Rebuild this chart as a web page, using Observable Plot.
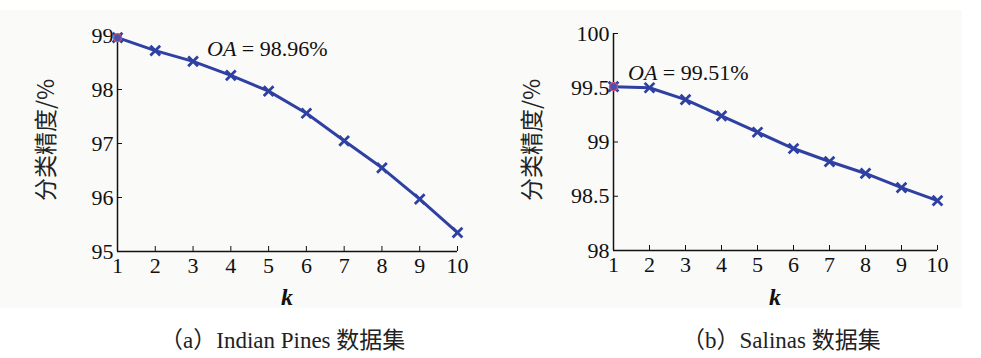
<!DOCTYPE html>
<html>
<head>
<meta charset="utf-8">
<script src="https://cdn.jsdelivr.net/npm/d3@7"></script>
<script src="https://cdn.jsdelivr.net/npm/@observablehq/plot@0.6"></script>
<style>
  body { margin: 0; background: #fff; }
  #wrap { position: relative; width: 981px; height: 358px; overflow: hidden; font-family: "Liberation Serif", "DejaVu Serif", serif; }
  #band { position: absolute; left: 0; top: 10px; width: 962px; height: 298px; background: #fafaf8; }
  .panel { position: absolute; top: 0; }
  .cap { position: absolute; top: 321px; font-size: 23px; color: #222; font-family: "Liberation Serif", "DejaVu Serif", serif; white-space: nowrap; }
  .cap .cjk { font-family: "Noto Sans CJK SC", sans-serif; font-size: 23px; }
</style>
</head>
<body>
<div id="wrap">
  <div id="band"></div>
  <div class="panel" id="pa" style="left:0px"></div>
  <div class="panel" id="pb" style="left:490px"></div>
  <div class="cap" style="left:160px"><span class="cjk">（</span>a<span class="cjk">）</span>Indian Pines <span class="cjk">数据集</span></div>
  <div class="cap" style="left:682px"><span class="cjk">（</span>b<span class="cjk">）</span>Salinas <span class="cjk">数据集</span></div>
</div>
<script>
const kValues = [1, 2, 3, 4, 5, 6, 7, 8, 9, 10];
const indianPines = [98.96, 98.72, 98.52, 98.26, 97.97, 97.56, 97.05, 96.55, 95.97, 95.35];
const salinas = [99.51, 99.50, 99.39, 99.24, 99.09, 98.94, 98.82, 98.71, 98.58, 98.46];
const yTicksA = [95, 96, 97, 98, 99];
const yTicksB = [98, 98.5, 99, 99.5, 100];
const yLabel = "分类精度/%";
const xLabel = "k";
const oaA = "98.96%";
const oaB = "99.51%";

const lineColor = "#2f40a3";
const serif = "'Liberation Serif', 'DejaVu Serif', serif";

function panel(values, yDomain, yTicks, oa, opts) {
  const data = kValues.map((k, i) => ({k, v: values[i]}));
  const chart = Plot.plot({
    width: opts.width,
    height: 310,
    marginLeft: opts.ml,
    marginRight: opts.mr,
    marginTop: opts.mt,
    marginBottom: opts.mb,
    style: {background: "transparent", fontSize: "22px", fontFamily: serif, color: "#111", overflow: "visible"},
    x: {domain: [1, 10], ticks: kValues, tickFormat: d => String(d), label: null},
    y: {domain: yDomain, ticks: yTicks, tickFormat: d => String(d), label: null},
    marks: [
      Plot.axisX({ticks: kValues, tickSize: -5, tickPadding: 11, fontSize: 22, tickFormat: d => String(d), label: null, stroke: "#111"}),
      Plot.axisY({ticks: yTicks, tickSize: -5, tickPadding: 9, fontSize: 22, tickFormat: d => String(d), label: null, stroke: "#111"}),
      Plot.ruleY([yDomain[0]], {stroke: "#111", strokeWidth: 1.5}),
      Plot.ruleX([1], {stroke: "#111", strokeWidth: 1.5}),
      Plot.line(data, {x: "k", y: "v", stroke: lineColor, strokeWidth: 3}),
      Plot.dot(data, {x: "k", y: "v", symbol: "times", r: 4.5, stroke: lineColor, strokeWidth: 2.8}),
      Plot.dot(data.slice(0, 1), {x: "k", y: "v", symbol: "circle", r: 4, stroke: "#d9506a", fill: "#4a4fb0", strokeWidth: 1.2})
    ]
  });
  const svg = d3.select(chart);
  svg.selectAll('g[aria-label$="tick label"]').attr("font-size", 22).style("font-size", "22px");
  svg.selectAll('g[aria-label$="tick label"] text').style("font-size", "22px");
  const W = opts.width;
  svg.append("text")
    .attr("x", opts.ml + (W - opts.ml - opts.mr) / 2)
    .attr("y", 305)
    .attr("text-anchor", "middle")
    .attr("font-size", 24)
    .attr("font-style", "italic")
    .attr("font-weight", "bold")
    .attr("font-family", serif)
    .attr("fill", "#111")
    .text(xLabel);
  svg.append("text")
    .attr("transform", `translate(${opts.yl},${opts.ylc}) rotate(-90)`)
    .attr("text-anchor", "middle")
    .attr("font-size", 23)
    .attr("fill", "#222")
    .attr("font-family", "'Noto Sans CJK SC', sans-serif")
    .text(yLabel);
  const t = svg.append("text")
    .attr("x", opts.oax)
    .attr("y", opts.oay)
    .attr("text-anchor", "start")
    .attr("font-size", 22)
    .attr("font-family", serif)
    .attr("fill", "#111");
  t.append("tspan").attr("font-style", "italic").text("OA");
  t.append("tspan").text(" = " + oa);
  return chart;
}

document.getElementById("pa").appendChild(
  panel(indianPines, [95, 99], yTicksA, oaA, {width: 490, ml: 117, mr: 33, mt: 35, mb: 59, yl: 54, ylc: 140, oax: 207, oay: 56})
);
document.getElementById("pb").appendChild(
  panel(salinas, [98, 100], yTicksB, oaB, {width: 491, ml: 123, mr: 44, mt: 33, mb: 60, yl: 50, ylc: 140, oax: 138, oay: 80})
);
</script>
</body>
</html>
